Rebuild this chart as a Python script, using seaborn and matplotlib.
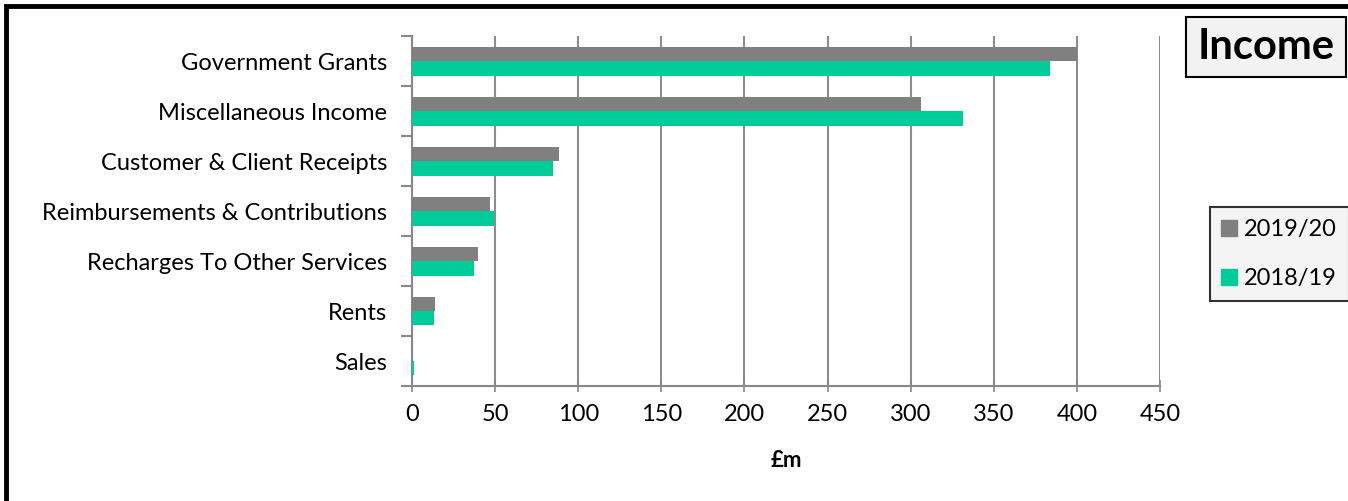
import matplotlib
matplotlib.use("Agg")
import matplotlib.pyplot as plt
import seaborn as sns
import pandas as pd
from matplotlib.patches import Rectangle
from matplotlib.lines import Line2D

categories = ["Government Grants", "Miscellaneous Income", "Customer & Client Receipts",
              "Reimbursements & Contributions", "Recharges To Other Services", "Rents", "Sales"]
values_2019_20 = [400.0, 306.0, 88.6, 47.0, 39.8, 13.9, 0.3]
values_2018_19 = [383.6, 331.2, 84.9, 49.4, 37.1, 13.1, 1.4]
series_names = ["2019/20", "2018/19"]
series_colors = ["#808080", "#00CC99"]
x_ticks = [0, 50, 100, 150, 200, 250, 300, 350, 400, 450]

df = pd.DataFrame({
    "category": categories * 2,
    "value": values_2019_20 + values_2018_19,
    "year": [series_names[0]] * len(categories) + [series_names[1]] * len(categories),
})

sns.set_theme(style="white")
plt.rcParams["font.family"] = ["Lato", "DejaVu Sans"]

fig = plt.figure(figsize=(13.48, 5.01), dpi=100)
ax = fig.add_axes([412 / 1348, 1 - 386 / 501, (1160 - 412) / 1348, 350 / 501])

sns.barplot(data=df, y="category", x="value", hue="year", order=categories,
            hue_order=series_names, palette=series_colors, orient="h",
            width=0.58, linewidth=0, saturation=1, ax=ax, legend=False, zorder=3)

ax.set_xlim(0, 450)
ax.set_xticks(x_ticks)
ax.set_xticklabels([str(t) for t in x_ticks], fontsize=17)
ax.set_ylim(len(categories) - 0.5, -0.5)
ax.set_yticks([i - 0.5 for i in range(len(categories) + 1)], minor=True)
ax.tick_params(axis="y", which="major", length=0, labelsize=17, pad=18)
ax.tick_params(axis="y", which="minor", length=8, width=1.5, color="#888888", left=True)
ax.tick_params(axis="x", which="major", length=8, width=1.2, color="#888888",
               direction="inout", bottom=True, pad=9)
for lab in ax.get_yticklabels():
    lab.set_color("#000000")
for lab in ax.get_xticklabels():
    lab.set_color("#000000")

ax.grid(axis="x", color="#8c8c8c", linewidth=1.5, zorder=0)
ax.grid(axis="y", visible=False)
ax.set_axisbelow(True)
for side in ["top", "right"]:
    ax.spines[side].set_visible(False)
for side in ["left", "bottom"]:
    ax.spines[side].set_color("#888888")
    ax.spines[side].set_linewidth(1.5)

ax.set_ylabel("")
ax.set_xlabel("£m", fontsize=16, fontweight="bold", labelpad=18, color="black")

# Outer chart border
fig.patches.append(Rectangle((6 / 1348, -0.05), 1.1, 1 - 6 / 501 + 0.05,
                             transform=fig.transFigure, fill=False,
                             edgecolor="black", linewidth=3.5, zorder=10))

# Title box
fig.text((1187 + 1345) / 2 / 1348, 1 - 47 / 501, "Income", fontsize=30, fontweight="bold",
         ha="center", va="center", color="black",
         bbox=dict(boxstyle="square,pad=0.27", facecolor="#f2f2f2", edgecolor="black",
                   linewidth=1.5))

# Legend
handles = [Line2D([0], [0], marker="s", linestyle="", markersize=12,
                  markerfacecolor=c, markeredgecolor=c) for c in series_colors]
leg = fig.legend(handles, series_names, loc="upper left",
                 bbox_to_anchor=(1210 / 1348, 1 - 207 / 501), fontsize=17,
                 frameon=True, fancybox=False, edgecolor="black", facecolor="#f2f2f2",
                 handlelength=0.6, handletextpad=0.35, labelspacing=1.2,
                 borderpad=0.5, borderaxespad=0)
leg.get_frame().set_linewidth(1.5)
for t in leg.get_texts():
    t.set_color("black")

fig.savefig("out.png", dpi=100)
